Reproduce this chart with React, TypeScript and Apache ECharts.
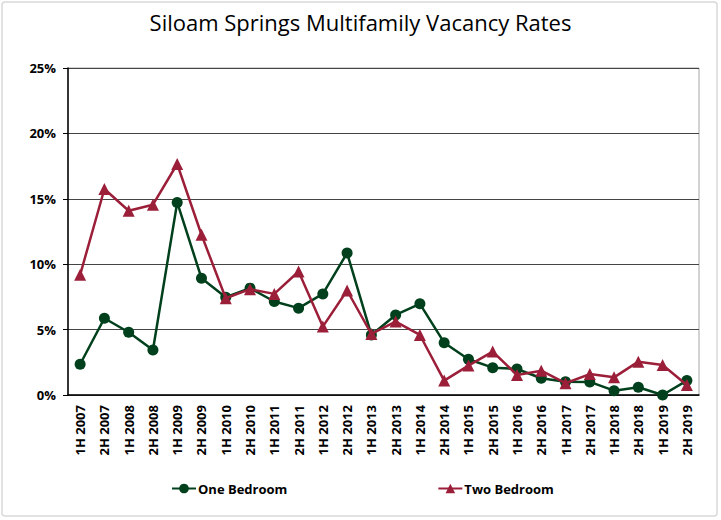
import React, { useEffect, useRef } from "react";
import * as echarts from "echarts";

const categories = [
  "1H 2007", "2H 2007", "1H 2008", "2H 2008", "1H 2009", "2H 2009", "1H 2010", "2H 2010",
  "1H 2011", "2H 2011", "1H 2012", "2H 2012", "1H 2013", "2H 2013", "1H 2014", "2H 2014",
  "1H 2015", "2H 2015", "1H 2016", "2H 2016", "1H 2017", "2H 2017", "1H 2018", "2H 2018",
  "1H 2019", "2H 2019",
];

const oneBedroom = [
  2.35, 5.87, 4.8, 3.44, 14.72, 8.93, 7.48, 8.17, 7.15, 6.64, 7.73, 10.85, 4.59, 6.12,
  6.97, 4.0, 2.73, 2.09, 1.99, 1.28, 1.02, 1.0, 0.33, 0.59, 0.0, 1.1,
];

const twoBedroom = [
  9.19, 15.75, 14.09, 14.55, 17.66, 12.25, 7.4, 8.09, 7.73, 9.44, 5.23, 7.99, 4.67, 5.61,
  4.59, 1.1, 2.25, 3.32, 1.53, 1.86, 0.9, 1.6, 1.35, 2.55, 2.3, 0.77,
];

const yTicks = { min: 0, max: 25, interval: 5 };

const GREEN = "#00401c";
const RED = "#9c1f3a";
const FONT = "'Open Sans', sans-serif";

export default function App() {
  const ref = useRef<HTMLDivElement>(null);

  useEffect(() => {
    if (!ref.current) return;
    const chart = echarts.init(ref.current, undefined, { renderer: "svg" });
    chart.setOption({
      animation: false,
      backgroundColor: "#ffffff",
      title: {
        text: "Siloam Springs Multifamily Vacancy Rates",
        left: "center",
        top: 6,
        textStyle: { fontFamily: FONT, fontSize: 22, fontWeight: "normal", color: "#000" },
      },
      graphic: [
        {
          type: "rect",
          shape: { x: 2, y: 2, width: 715, height: 514, r: 3 },
          style: { fill: "none", stroke: "#d9d9d9", lineWidth: 1.5 },
          silent: true,
        },
      ],
      grid: {
        left: 68,
        right: 22,
        top: 68,
        bottom: 125,
        show: true,
        borderColor: "#a6a6a6",
        borderWidth: 1,
      },
      legend: {
        bottom: 20,
        left: 166,
        itemGap: 150,
        itemWidth: 24,
        itemHeight: 12,
        textStyle: { fontFamily: FONT, fontSize: 13, fontWeight: "bold", color: "#000", padding: [0, 0, 0, -3] },
        data: ["One Bedroom", "Two Bedroom"],
      },
      xAxis: {
        type: "category",
        data: categories,
        boundaryGap: true,
        axisLine: { lineStyle: { color: "#000", width: 1.5 } },
        axisTick: { show: false },
        axisLabel: {
          rotate: 90,
          interval: 0,
          margin: 10,
          fontFamily: FONT,
          fontSize: 13,
          fontWeight: "bold",
          color: "#000",
        },
      },
      yAxis: {
        type: "value",
        min: yTicks.min,
        max: yTicks.max,
        interval: yTicks.interval,
        axisLine: { show: true, lineStyle: { color: "#000", width: 1.5 } },
        axisTick: { show: true, length: 5, lineStyle: { color: "#000" } },
        axisLabel: {
          formatter: "{value}%",
          margin: 12,
          fontFamily: FONT,
          fontSize: 13,
          fontWeight: "bold",
          color: "#000",
        },
        splitLine: { lineStyle: { color: "#444", width: 1 } },
      },
      series: [
        {
          name: "One Bedroom",
          type: "line",
          data: oneBedroom,
          symbol: "circle",
          symbolSize: 11,
          itemStyle: { color: GREEN },
          lineStyle: { color: GREEN, width: 2.5 },
          z: 3,
        },
        {
          name: "Two Bedroom",
          type: "line",
          data: twoBedroom,
          symbol: "triangle",
          symbolSize: 12,
          itemStyle: { color: RED },
          lineStyle: { color: RED, width: 2.5 },
          z: 4,
        },
      ],
    });
    return () => chart.dispose();
  }, []);

  return (
    <div
      ref={ref}
      style={{ position: "fixed", left: 0, top: 0, width: 721, height: 520 }}
    />
  );
}
